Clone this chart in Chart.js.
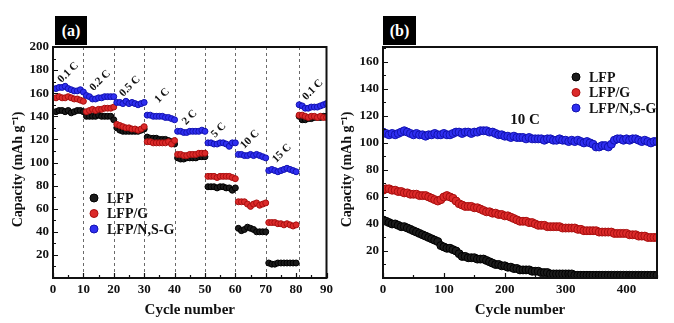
<!DOCTYPE html>
<html>
<head>
<meta charset="utf-8">
<script src="https://cdn.jsdelivr.net/npm/chart.js@4.4.1/dist/chart.umd.min.js"></script>
<style>
    body {
        margin: 0;
        width: 674px;
        height: 323px;
        background: #fff;
        position: relative;
        overflow: hidden;
    }
    canvas {
        position: absolute;
        top: 0;
    }
    #rateChart { left: 0; }
    #cycleChart { left: 337px; }
    .tag {
        position: absolute;
        top: 16px;
        height: 29px;
        background: #000;
        color: #fff;
        font: bold 16px "Liberation Serif", serif;
        display: flex;
        align-items: center;
        justify-content: center;
    }
</style>
</head>
<body>

<canvas id="rateChart" width="337" height="323"></canvas>
<canvas id="cycleChart" width="337" height="323"></canvas>
<div class="tag" style="left:55px;width:32px">(a)</div>
<div class="tag" style="left:383px;width:33px">(b)</div>

<script>
/*
  Rate capability (a) and long cycling at 10 C (b)
*/

// ---- (a) rate test, cycles 1-90 ----
const rateCycles = [
    1, 2, 3, 4, 5, 6, 7, 8, 9, 10,
    11, 12, 13, 14, 15, 16, 17, 18, 19, 20,
    21, 22, 23, 24, 25, 26, 27, 28, 29, 30,
    31, 32, 33, 34, 35, 36, 37, 38, 39, 40,
    41, 42, 43, 44, 45, 46, 47, 48, 49, 50,
    51, 52, 53, 54, 55, 56, 57, 58, 59, 60,
    61, 62, 63, 64, 65, 66, 67, 68, 69, 70,
    71, 72, 73, 74, 75, 76, 77, 78, 79, 80,
    81, 82, 83, 84, 85, 86, 87, 88, 89, 90
]

const lfpRate = [
    144, 145, 145, 144, 145, 143, 144, 145, 145, 144,
    140, 140, 140, 140, 141, 140, 140, 140, 140, 137,
    130, 128, 127, 127, 127, 127, 127, 127, 128, 129,
    122, 121, 121, 121, 120, 120, 120, 119, 118, 116,
    104, 103, 103, 104, 104, 104, 104, 105, 105, 105,
    79, 79, 79, 78, 79, 79, 78, 78, 76, 78,
    43, 41, 42, 44, 43, 42, 40, 40, 40, 40,
    13, 12, 12, 13, 13, 13, 13, 13, 13, 13,
    140, 137, 137, 138, 138, 139, 139, 139, 140, 140
]

const lfpgRate = [
    156, 157, 156, 156, 157, 156, 155, 155, 154, 153,
    144, 145, 146, 145, 146, 146, 147, 147, 147, 148,
    133, 132, 131, 130, 130, 129, 129, 128, 129, 131,
    118, 118, 117, 117, 117, 117, 117, 118, 116, 119,
    107, 107, 106, 106, 107, 107, 107, 108, 108, 108,
    88, 88, 88, 87, 88, 88, 88, 88, 87, 86,
    66, 66, 66, 64, 62, 64, 65, 63, 64, 65,
    48, 48, 48, 47, 47, 46, 47, 46, 45, 46,
    141, 141, 140, 139, 140, 140, 139, 140, 139, 139
]

const nsgRate = [
    164, 165, 165, 166, 164, 163, 162, 162, 163, 161,
    158, 157, 155, 155, 156, 156, 157, 157, 157, 157,
    152, 152, 151, 153, 151, 152, 151, 150, 151, 152,
    141, 141, 140, 140, 140, 140, 139, 139, 138, 137,
    127, 127, 126, 126, 127, 127, 127, 127, 128, 127,
    117, 117, 116, 116, 117, 117, 116, 114, 117, 117,
    107, 107, 106, 106, 107, 106, 107, 106, 105, 104,
    93, 94, 93, 92, 93, 94, 95, 94, 93, 92,
    150, 149, 147, 147, 148, 148, 148, 149, 150, 151
]

// cycle numbers where the C-rate changes
const rateSteps = [10, 20, 30, 40, 50, 60, 70, 81]
const rateNames = ["0.1 C", "0.2 C", "0.5 C", "1 C", "2 C", "5 C", "10 C", "15 C", "0.1 C"]

// ---- (b) 10 C cycling, every 5th cycle ----
const longCycles = [
    0, 5, 10, 15, 20, 25, 30, 35, 40, 45,
    50, 55, 60, 65, 70, 75, 80, 85, 90, 95,
    100, 105, 110, 115, 120, 125, 130, 135, 140, 145,
    150, 155, 160, 165, 170, 175, 180, 185, 190, 195,
    200, 205, 210, 215, 220, 225, 230, 235, 240, 245,
    250, 255, 260, 265, 270, 275, 280, 285, 290, 295,
    300, 305, 310, 315, 320, 325, 330, 335, 340, 345,
    350, 355, 360, 365, 370, 375, 380, 385, 390, 395,
    400, 405, 410, 415, 420, 425, 430, 435, 440, 445,
    450
]

const lfpLong = [
    43, 42, 41, 40, 40, 39, 38, 38, 37, 36,
    35, 34, 33, 32, 31, 30, 29, 28, 27, 24,
    23, 22, 22, 21, 20, 18, 16, 16, 15, 15,
    15, 14, 14, 14, 13, 12, 11, 10, 10, 9,
    9, 8, 8, 7, 7, 6, 6, 6, 6, 5,
    5, 5, 4, 4, 4, 3, 3, 3, 3, 3,
    3, 3, 3, 2, 2, 2, 2, 2, 2, 2,
    2, 2, 2, 2, 2, 2, 2, 2, 2, 2,
    2, 2, 2, 2, 2, 2, 2, 2, 2, 2,
    2
]

const lfpgLong = [
    65, 66, 66, 65, 65, 64, 64, 63, 63, 62,
    62, 62, 61, 61, 61, 60, 59, 58, 57, 58,
    60, 61, 60, 59, 57, 55, 54, 53, 53, 53,
    52, 52, 51, 50, 49, 49, 48, 48, 47, 47,
    46, 46, 45, 44, 43, 42, 42, 42, 41, 41,
    40, 39, 39, 39, 38, 38, 38, 38, 38, 37,
    37, 37, 37, 37, 36, 36, 35, 35, 35, 35,
    35, 34, 34, 34, 34, 34, 33, 33, 33, 33,
    33, 32, 32, 32, 31, 31, 31, 30, 30, 30,
    30
]

const nsgLong = [
    108, 107, 106, 107, 106, 107, 108, 109, 108, 107,
    106, 107, 106, 106, 105, 106, 106, 107, 106, 106,
    107, 106, 106, 107, 108, 108, 107, 108, 108, 107,
    108, 108, 109, 109, 109, 108, 108, 107, 106, 106,
    105, 105, 104, 105, 104, 104, 104, 103, 104, 103,
    103, 103, 103, 102, 103, 103, 102, 102, 103, 102,
    102, 101, 102, 101, 102, 101, 100, 101, 100, 99,
    97, 97, 98, 98, 97, 99, 102, 103, 103, 102,
    103, 102, 103, 103, 102, 101, 102, 101, 100, 101,
    101
]

const seriesNames = ["LFP", "LFP/G", "LFP/N,S-G"]

const SERIF = '"Liberation Serif", "Times New Roman", serif'
const INK = "#111"

const pointStyle = [
    { fill: "#1c1c1c", edge: "#000000" },
    { fill: "#dc2a2a", edge: "#a80f0f" },
    { fill: "#2f2ff0", edge: "#1212b0" }
]

Chart.defaults.font.family = SERIF
Chart.defaults.color = INK

function toPoints(xs, ys) {
    return xs.map((x, i) => ({ x: x, y: ys[i] }))
}

function makeDataset(index, xs, ys, radius) {
    return {
        label: seriesNames[index],
        data: toPoints(xs, ys),
        showLine: false,
        pointRadius: radius,
        pointBorderWidth: 1,
        pointBackgroundColor: pointStyle[index].fill,
        pointBorderColor: pointStyle[index].edge,
        order: 3 - index
    }
}

// frame round the plot, ticks pointing inward
const frameTicks = {
    id: "frameTicks",
    afterDatasetsDraw(chart, args, opts) {
        const { ctx, chartArea: a, scales: { x, y } } = chart
        ctx.save()
        ctx.strokeStyle = INK
        ctx.lineWidth = 1.2
        ctx.beginPath()
        for (let v = x.min; v <= x.max + 1e-6; v += opts.xMinor) {
            const px = Math.round(x.getPixelForValue(v)) + 0.5
            const major = Math.abs(v % opts.xMajor) < 1e-6
            ctx.moveTo(px, a.bottom)
            ctx.lineTo(px, a.bottom - (major ? 5 : 3))
        }
        for (let v = y.min; v <= y.max + 1e-6; v += opts.yMinor) {
            const py = Math.round(y.getPixelForValue(v)) + 0.5
            const major = Math.abs(v % opts.yMajor) < 1e-6
            ctx.moveTo(a.left, py)
            ctx.lineTo(a.left + (major ? 5 : 3), py)
        }
        ctx.stroke()
        ctx.lineWidth = 2
        ctx.strokeRect(a.left, a.top, a.right - a.left, a.bottom - a.top)
        ctx.restore()
    }
}

// legend with a dot per series
function dotLegend(id, left, top, gap) {
    return {
        id: id,
        afterDraw(chart) {
            const ctx = chart.ctx
            ctx.save()
            ctx.font = "bold 14px " + SERIF
            ctx.textBaseline = "middle"
            chart.data.datasets.forEach((ds, i) => {
                const cy = top + i * gap
                ctx.beginPath()
                ctx.arc(left, cy, 4, 0, Math.PI * 2)
                ctx.fillStyle = pointStyle[i].fill
                ctx.fill()
                ctx.strokeStyle = pointStyle[i].edge
                ctx.lineWidth = 1
                ctx.stroke()
                ctx.fillStyle = INK
                ctx.fillText(ds.label, left + 13, cy + 1)
            })
            ctx.restore()
        }
    }
}

// dashed lines between C-rate steps
const stepLines = {
    id: "stepLines",
    beforeDatasetsDraw(chart) {
        const { ctx, chartArea: a, scales: { x } } = chart
        ctx.save()
        ctx.strokeStyle = "#6a6a6a"
        ctx.lineWidth = 1
        ctx.setLineDash([3, 3])
        rateSteps.forEach(c => {
            const px = Math.round(x.getPixelForValue(c)) + 0.5
            ctx.beginPath()
            ctx.moveTo(px, a.top)
            ctx.lineTo(px, a.bottom)
            ctx.stroke()
        })
        ctx.restore()
    }
}

// C-rate names, written at 45 degrees above each step
const rateTagAnchors = [
    [5, 178], [15.5, 171], [25.3, 166], [35.9, 158], [45, 139],
    [54.5, 128], [64.8, 120], [75.3, 108], [85.5, 163]
]

const rateTags = {
    id: "rateTags",
    afterDraw(chart) {
        const { ctx, scales: { x, y } } = chart
        ctx.save()
        ctx.font = "bold 11px " + SERIF
        ctx.fillStyle = INK
        ctx.textAlign = "center"
        ctx.textBaseline = "middle"
        rateNames.forEach((name, i) => {
            const [cx, cy] = rateTagAnchors[i]
            ctx.save()
            ctx.translate(x.getPixelForValue(cx), y.getPixelForValue(cy))
            ctx.rotate(-Math.PI / 4)
            ctx.fillText(name, 0, 0)
            ctx.restore()
        })
        ctx.restore()
    }
}

const rateLabel = {
    id: "rateLabel",
    afterDraw(chart) {
        const ctx = chart.ctx
        ctx.save()
        ctx.font = "bold 15px " + SERIF
        ctx.fillStyle = INK
        ctx.textAlign = "center"
        ctx.textBaseline = "middle"
        ctx.fillText("10 C", 188, 120)
        ctx.restore()
    }
}

function axisTicks(step) {
    return {
        stepSize: step,
        autoSkip: false,
        includeBounds: false,
        maxRotation: 0,
        padding: 4,
        color: INK,
        font: { size: 13, weight: "bold" },
        callback: v => (v === 0 ? "" : v)
    }
}

function axisTitle(text, size, padding) {
    return {
        display: true,
        text: text,
        color: INK,
        font: { size: size, weight: "bold" },
        padding: padding
    }
}

function baseOptions(xMax, xStep, yMax, yStep, yWidth, rightPad, titlePad) {
    const opts = {
        responsive: false,
        animation: false,
        layout: { padding: { top: 47, right: rightPad, bottom: 0, left: 0 } },
        plugins: {
            legend: { display: false },
            tooltip: { enabled: false }
        },
        scales: {
            x: {
                type: "linear",
                min: 0,
                max: xMax,
                grid: { display: false, drawTicks: false },
                border: { display: false },
                ticks: axisTicks(xStep),
                title: axisTitle("Cycle number", 15, { top: 0, bottom: 4 }),
                afterFit(scale) {
                    scale.height = 45
                }
            },
            y: {
                type: "linear",
                min: 0,
                max: yMax,
                grid: { display: false, drawTicks: false },
                border: { display: false },
                ticks: axisTicks(yStep),
                // trailing spaces sit the title a little below the middle
                title: axisTitle("Capacity (mAh g\u207B\u00B9)\u2002\u2002", 14, { top: titlePad, bottom: 0 }),
                afterFit(scale) {
                    scale.width = yWidth
                }
            }
        }
    }
    // the cycle axis keeps its zero label
    opts.scales.x.ticks.callback = v => v
    return opts
}

const rateOptions = baseOptions(90, 10, 200, 20, 53, 10, 10)
rateOptions.plugins.frameTicks = { xMinor: 5, xMajor: 10, yMinor: 10, yMajor: 20 }

new Chart(document.getElementById("rateChart"), {
    type: "scatter",
    data: {
        datasets: [
            makeDataset(0, rateCycles, lfpRate, 3),
            makeDataset(1, rateCycles, lfpgRate, 3),
            makeDataset(2, rateCycles, nsgRate, 3)
        ]
    },
    options: rateOptions,
    plugins: [stepLines, frameTicks, rateTags, dotLegend("rateLegend", 94, 198, 15.5)]
})

const cycleOptions = baseOptions(450, 100, 171, 20, 46, 17, 2)
cycleOptions.plugins.frameTicks = { xMinor: 50, xMajor: 100, yMinor: 10, yMajor: 20 }

new Chart(document.getElementById("cycleChart"), {
    type: "scatter",
    data: {
        datasets: [
            makeDataset(0, longCycles, lfpLong, 4),
            makeDataset(1, longCycles, lfpgLong, 4),
            makeDataset(2, longCycles, nsgLong, 4)
        ]
    },
    options: cycleOptions,
    plugins: [frameTicks, rateLabel, dotLegend("cycleLegend", 239, 77, 15.5)]
})
</script>
</body>
</html>
